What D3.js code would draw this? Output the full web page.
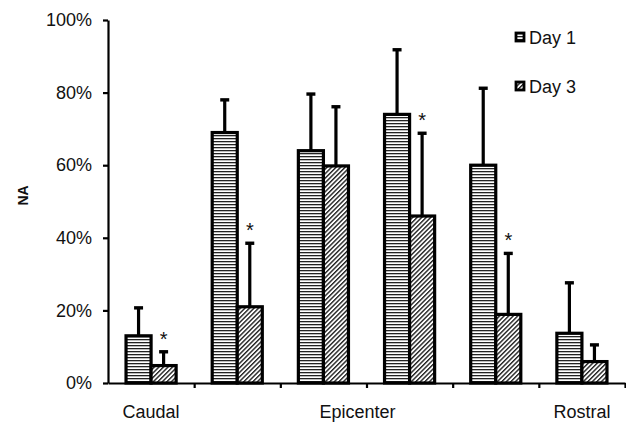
<!DOCTYPE html>
<html>
<head>
<meta charset="utf-8">
<script src="https://cdn.jsdelivr.net/npm/d3@7"></script>
<style>
  body { margin: 0; background: #fff; }
  svg { display: block; font-family: "Liberation Sans", Arial, sans-serif; }
</style>
</head>
<body>
<svg id="chart" width="626" height="423"></svg>
<script>
// ---- data ----
const groups = ["G1", "G2", "G3", "G4", "G5", "G6"];
const series = ["Day 1", "Day 3"];
const day1 = [0.13, 0.69, 0.64, 0.74, 0.60, 0.137];
const day1Err = [0.077, 0.09, 0.156, 0.178, 0.212, 0.139];
const day3 = [0.048, 0.21, 0.598, 0.46, 0.189, 0.059];
const day3Err = [0.038, 0.175, 0.163, 0.228, 0.168, 0.046];
const significant = [true, true, false, true, true, false]; // asterisk over Day 3
const xLabels = [
  { text: "Caudal", after: 0, pos: "center" },
  { text: "Epicenter", after: 3, pos: "boundary" },
  { text: "Rostral", after: 5, pos: "center" }
];
const yTicks = [0, 0.2, 0.4, 0.6, 0.8, 1.0];
const yTitle = "NA";

// ---- layout ----
const svg = d3.select("#chart");
const mLeft = 108, mRight = 625, mTop = 20, mBottom = 383;

const x = d3.scaleBand().domain(groups).range([mLeft, mRight]).paddingInner(0).paddingOuter(0);
const xs = d3.scaleBand().domain(series).range([0, x.bandwidth()]).paddingInner(0).paddingOuter(0.72);
const y = d3.scaleLinear().domain([0, 1]).range([mBottom, mTop]);

// patterns
const defs = svg.append("defs");
const ph = defs.append("pattern").attr("id", "horiz").attr("patternUnits", "userSpaceOnUse")
  .attr("width", 6).attr("height", 3);
ph.append("rect").attr("width", 6).attr("height", 3).attr("fill", "#fff");
ph.append("rect").attr("y", 0).attr("width", 6).attr("height", 1.3).attr("fill", "#222");

const pd = defs.append("pattern").attr("id", "diag").attr("patternUnits", "userSpaceOnUse")
  .attr("width", 3.2).attr("height", 3.2).attr("patternTransform", "rotate(45)");
pd.append("rect").attr("width", 3.2).attr("height", 3.2).attr("fill", "#fff");
pd.append("rect").attr("x", 0).attr("width", 1.4).attr("height", 3.2).attr("fill", "#222");

const fills = { "Day 1": "url(#horiz)", "Day 3": "url(#diag)" };

const rows = [];
groups.forEach((g, i) => {
  rows.push({ g, s: "Day 1", v: day1[i], e: day1Err[i], star: false });
  rows.push({ g, s: "Day 3", v: day3[i], e: day3Err[i], star: significant[i] });
});

// error bars (behind bars)
const eg = svg.append("g");
rows.forEach(d => {
  const cx = x(d.g) + xs(d.s) + xs.bandwidth() / 2;
  eg.append("line").attr("x1", cx).attr("x2", cx).attr("y1", y(d.v)).attr("y2", y(d.v + d.e))
    .attr("stroke", "#000").attr("stroke-width", 3.2);
  eg.append("line").attr("x1", cx - 4.5).attr("x2", cx + 4.5).attr("y1", y(d.v + d.e)).attr("y2", y(d.v + d.e))
    .attr("stroke", "#000").attr("stroke-width", 3.4);
});

// bars
svg.append("g").selectAll("rect").data(rows).join("rect")
  .attr("x", d => x(d.g) + xs(d.s))
  .attr("y", d => y(d.v))
  .attr("width", xs.bandwidth())
  .attr("height", d => y(0) - y(d.v))
  .attr("fill", d => fills[d.s])
  .attr("stroke", "#000")
  .attr("stroke-width", 3.2);

// asterisks
svg.append("g").selectAll("text").data(rows.filter(d => d.star)).join("text")
  .attr("x", d => x(d.g) + xs(d.s) + xs.bandwidth() / 2)
  .attr("y", d => y(d.v + d.e) - 6)
  .attr("text-anchor", "middle")
  .attr("font-size", 20)
  .attr("fill", "#111")
  .text("*");

// y axis
const yAxis = svg.append("g").attr("transform", `translate(${mLeft},0)`)
  .call(d3.axisLeft(y).tickValues(yTicks).tickFormat(d3.format(".0%")).tickSize(5).tickSizeOuter(0).tickPadding(11));
yAxis.select(".domain").attr("stroke", "#000").attr("stroke-width", 2.2);
yAxis.selectAll(".tick line").attr("stroke", "#000").attr("stroke-width", 2.2);
yAxis.selectAll(".tick text").attr("font-size", 18).attr("fill", "#111")
  .attr("font-family", "'Liberation Sans', Arial, sans-serif");

// x axis (ticks at category boundaries)
const xb = d3.scaleLinear().domain([0, groups.length]).range([mLeft, mRight]);
const xAxis = svg.append("g").attr("transform", `translate(0,${mBottom})`)
  .call(d3.axisBottom(xb).tickValues(d3.range(1, groups.length + 1)).tickFormat("").tickSize(5).tickSizeOuter(0));
xAxis.select(".domain").attr("stroke", "#000").attr("stroke-width", 2.2);
xAxis.selectAll(".tick line").attr("stroke", "#000").attr("stroke-width", 2.2);

// x labels
svg.append("g").selectAll("text").data(xLabels).join("text")
  .attr("x", d => d.pos === "center"
      ? x(groups[d.after]) + x.bandwidth() / 2
      : x(groups[d.after]) - 9)
  .attr("y", 418)
  .attr("text-anchor", "middle")
  .attr("font-size", 18)
  .attr("fill", "#111")
  .text(d => d.text);

// y title
svg.append("text")
  .attr("transform", `translate(28,${(mTop + mBottom) / 2 - 6}) rotate(-90)`)
  .attr("text-anchor", "middle")
  .attr("font-size", 14)
  .attr("font-weight", "bold")
  .attr("fill", "#111")
  .text(yTitle);

// legend
const legend = svg.append("g");
series.forEach((s, i) => {
  const ly = 38 + i * 49;
  legend.append("rect").attr("x", 516).attr("y", ly - 5).attr("width", 8).attr("height", 8)
    .attr("fill", fills[s]).attr("stroke", "#000").attr("stroke-width", 2.8);
  legend.append("text").attr("x", 529).attr("y", ly + 6).attr("font-size", 18).attr("fill", "#111").text(s);
});
</script>
</body>
</html>
